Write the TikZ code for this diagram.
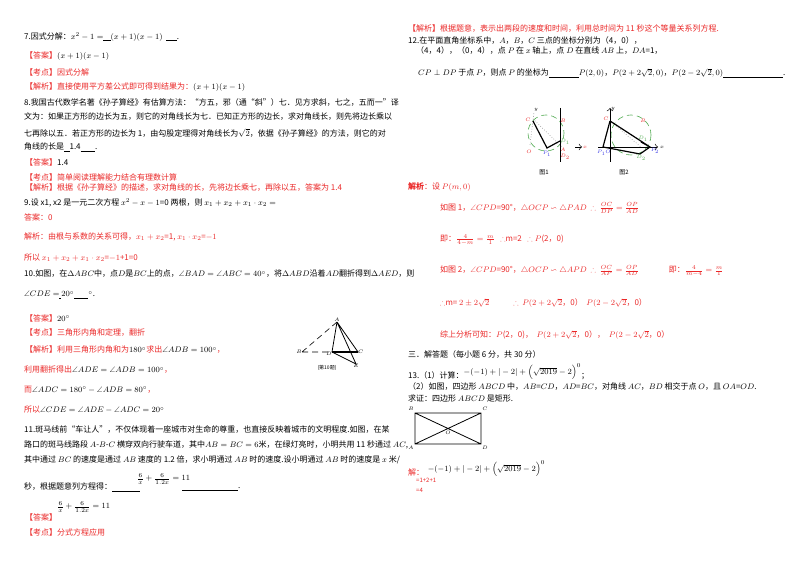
\documentclass[tikz,border=0pt]{standalone}
\usepackage{fontspec}
\usepackage{amsmath,amssymb}
\setmainfont{Noto Sans CJK SC}
\definecolor{rd}{RGB}{235,40,40}
\definecolor{gr}{RGB}{80,170,80}
\definecolor{bl}{RGB}{60,60,230}
\tikzset{txt/.style={anchor=west,inner sep=0pt,scale=0.5,font=\fontsize{8pt}{9pt}\selectfont},
 rt/.style={txt,text=rd}, lab/.style={inner sep=0pt,scale=0.5,font=\fontsize{5pt}{5.5pt}\selectfont}}
\newcommand\TT[4]{\node[txt] (#1) at (#2,#3) {#4};}
\newcommand\TR[4]{\node[rt] (#1) at (#2,#3) {#4};}
\begin{document}
\begin{tikzpicture}[x=0.5pt,y=-0.5pt]
\useasboundingbox (0,0) rectangle (800,565);
\fill[white] (0,0) rectangle (800,565);
% left column
\TT{a1}{24}{37}{7.因式分解：$x^2-1=$\underline{\ \ \ \ }$(x+1)(x-1)$\ \ \underline{\ \ \ \ \ \ }.}
\TR{a2}{25}{56}{【答案】\textcolor{black}{$(x+1)(x-1)$}}
\TR{a3}{25}{72}{【考点】因式分解}
\TR{a4}{25}{87}{【解析】直接使用平方差公式即可得到结果为：\textcolor{black}{$(x+1)(x-1)$}}
\TT{a5}{24}{103}{8.我国古代数学名著《孙子算经》有估算方法：“方五，邪（通“斜”）七．见方求斜，七之，五而一”译}
\TT{a6}{24}{117}{文为：如果正方形的边长为五，则它的对角线长为七．已知正方形的边长，求对角线长，则先将边长乘以}
\TT{a7}{24}{133}{七再除以五．若正方形的边长为 1，由勾股定理得对角线长为$\sqrt2$，依据《孙子算经》的方法，则它的对}
\TT{a8}{24}{147}{角线的长是\underline{\ \ \ }1.4\underline{\ \ \ \ \ \ \ \ }.}
\TR{a9}{25}{162}{【答案】\textcolor{black}{1.4}}
\TR{a10}{25}{177}{【考点】简单阅读理解能力结合有理数计算}
\TR{a11}{25}{188}{【解析】根据《孙子算经》的描述，求对角线的长，先将边长乘七，再除以五，答案为 1.4}
\TT{a12}{24}{203}{9.设 x1, x2 是一元二次方程 $x^2-x-1$=0 两根，则 $x_1+x_2+x_1\cdot x_2=$}
\TR{a13}{24}{217}{答案：0}
\TR{a14}{24}{237}{解析：由根与系数的关系可得，$x_1+x_2$=1, $x_1\cdot x_2$=$-1$}
\TR{a15}{24}{258}{所以 $x_1+x_2+x_1\cdot x_2$=$-1$+1=0}
\TT{a16}{24}{274}{10.如图，在$\Delta ABC$中，点$D$是$BC$上的点，$\angle BAD=\angle ABC=40^\circ$，将$\Delta ABD$沿着$AD$翻折得到$\Delta AED$，则}
\TT{a17}{24}{295}{$\angle CDE=$\underline{\ }$20^\circ$\underline{\ \ \ \ \ \ \ \ }$^\circ$.}
\TR{a18}{25}{318}{【答案】\textcolor{black}{$20^\circ$}}
\TR{a19}{25}{333}{【考点】三角形内角和定理，翻折}
\TR{a20}{25}{350}{【解析】利用三角形内角和为\textcolor{black}{$180^\circ$}求出\textcolor{black}{$\angle ADB=100^\circ$}，}
\TR{a21}{24}{370}{利用翻折得出\textcolor{black}{$\angle ADE=\angle ADB=100^\circ$}，}
\TR{a22}{24}{390}{而\textcolor{black}{$\angle ADC=180^\circ-\angle ADB=80^\circ$}，}
\TR{a23}{24}{410}{所以\textcolor{black}{$\angle CDE=\angle ADE-\angle ADC=20^\circ$}}
\TT{a24}{24}{430}{11.斑马线前“车让人”，不仅体现着一座城市对生命的尊重，也直接反映着城市的文明程度.如图，在某}
\TT{a25}{24}{445}{路口的斑马线路段 $A$-$B$-$C$ 横穿双向行驶车道，其中$AB=BC=6$米，在绿灯亮时，小明共用 11 秒通过 $AC$,}
\TT{a26}{24}{460}{其中通过 $BC$ 的速度是通过 $AB$ 速度的 1.2 倍，求小明通过 $AB$ 时的速度.设小明通过 $AB$ 时的速度是 $x$ 米/}
\TT{a27}{24}{487}{秒，根据题意列方程得：\underline{\hspace{28pt}}}
\node[txt] (a28) at (137,479) {$\frac{6}{x}+\frac{6}{1.2x}=11$};
\node[txt] (a29) at (182,489) {\underline{\hspace{56pt}}.};
\TR{a30}{25}{517}{【答案】}
\node[txt] (a31) at (57,507) {$\frac{6}{x}+\frac{6}{1.2x}=11$};
\TR{a32}{25}{532}{【考点】分式方程应用}
% triangle figure
\coordinate (A) at (337,322); \coordinate (B) at (302,352); \coordinate (D) at (332,352);
\coordinate (C) at (358,352); \coordinate (E) at (356,364);
\draw[densely dashed,line width=0.3pt] (B)--(A) (B)--(D);
\draw[line width=0.4pt] (A)--(D)--(C)--(A)--(E)--(D);
\draw[line width=0.8pt] (D)--(C);
\node[lab,above] (lA) at (A) {$A$}; \node[lab,left] (lB) at (B) {$B$};
\node[lab,below left] (lD) at (D) {$D$}; \node[lab,right] (lC) at (C) {$C$};
\node[lab,below] (lE) at (E) {$E$}; \node[lab] (cap) at (327,368) {(第10题)};
% right column
\TR{b1}{408}{29}{【解析】根据题意，表示出两段的速度和时间，利用总时间为 11 秒这个等量关系列方程.}
\TT{b2}{408}{41}{12.在平面直角坐标系中，$A$，$B$，$C$ 三点的坐标分别为（4，0），}
\TT{b3}{416}{51}{（4，4），（0，4），点 $P$ 在 $x$ 轴上，点 $D$ 在直线 $AB$ 上，$DA$=1，}
\TT{b4}{418}{73}{$CP\perp DP$ 于点 $P$，则点 $P$ 的坐标为\underline{\hspace{30pt}}$P(2,0)$，$P(2+2\sqrt2,0)$，$P(2-2\sqrt2,0)$\underline{\hspace{60pt}}.}
% fig 1
\draw[gr,densely dashed,line width=0.3pt] (546,133) circle (18);
\draw[line width=0.3pt] (560,108)--(560,162);
\draw[gray,densely dotted,line width=0.3pt] (533,119)--(562,147) (530,145)--(534,112);
\draw[->,densely dashed,line width=0.3pt] (575,147)--(582,147);
\draw[line width=0.6pt] (533,121)--(547,148)--(560,141);
\node[lab,text=rd] (f1C) at (528,120) {$C$}; \node[lab,text=rd] (f1B) at (563,121) {$B$};
\node[lab,text=gr] (f1D1) at (565,142) {$D_1$}; \node[lab,text=bl] (f1P) at (547,154) {$P_1$};
\node[lab,text=rd] (f1A) at (563,150) {$A$}; \node[lab,text=rd] (f1D2) at (565,157) {$D_2$};
\node[lab,text=rd] (f1O) at (529,152) {$O$}; \node[lab,text=rd] (f1x) at (585,147) {$x$};
\node[lab] (f1y) at (536,110) {$y$};
\node[lab,font=\fontsize{6pt}{6.5pt}\selectfont] (g1) at (544,172) {图1};
% fig 2
\draw[gr,densely dashed,line width=0.3pt] (631,135) circle (20);
\draw[->,line width=0.3pt] (610,162)--(610,108);
\draw[->,line width=0.3pt] (598,147)--(658,147);
\draw[gray,densely dotted,line width=0.3pt] (610,121)--(641,147);
\draw[line width=0.6pt] (610,121)--(650,147)--(640,154)--(603,147)--(610,121) (641,142)--(650,147);
\node[lab,text=rd] (f2C) at (606,119) {$C$}; \node[lab,text=rd] (f2B) at (643,121) {$B$};
\node[lab,text=gr] (f2D1) at (643,139) {$D_1$}; \node[lab,text=bl] (f2P2) at (655,151) {$P_2$};
\node[lab,text=gr] (f2D2) at (641,158) {$D_2$}; \node[lab,text=bl] (f2P1) at (604,153) {$P_1O$};
\node[lab] (f2x) at (662,147) {$x$}; \node[lab] (f2y) at (613,109) {$y$};
\node[lab,font=\fontsize{6pt}{6.5pt}\selectfont] (g2) at (624,172) {图2};
\TR{b5}{408}{187}{\textbf{解析}：设 $P(m,0)$}
\TR{b6}{440}{208}{如图 1，$\angle CPD$=90°，$\triangle OCP\backsim\triangle PAD$\ \ $\therefore$\ \ $\frac{OC}{DP}=\frac{OP}{AD}$}
\TR{b7}{440}{240}{即：$\frac{4}{4-m}=\frac{m}{1}$\ \ \ $\therefore$m=2\ \ \ $\therefore P$(2，0)}
\TR{b8}{440}{271}{如图 2，$\angle CPD$=90°，$\triangle OCP\backsim\triangle APD$\ \ $\therefore$\ \ $\frac{OC}{AP}=\frac{OP}{AD}$\hspace{30pt}即：$\frac{4}{m-4}=\frac{m}{1}$}
\TR{b9}{440}{303}{$\therefore$m= $2\pm2\sqrt2$\hspace{24pt}$\therefore$\ \ $P(2+2\sqrt2$，0）\ \ $P(2-2\sqrt2$，0）}
\TR{b10}{440}{335}{综上分析可知：$P$(2，0)，\ \ $P(2+2\sqrt2$，0），\ \ $P(2-2\sqrt2$，0）}
\TT{b11}{408}{355}{三．解答题（每小题 6 分，共 30 分）}
\TT{b12}{408}{372}{13.（1）计算：\raisebox{4pt}{$-(-1)+|-2|+\left(\sqrt{2019}-2\right)^0$}；}
\TT{b13}{408}{387}{（2）如图，四边形 $ABCD$ 中，$AB$=$CD$，$AD$=$BC$，对角线 $AC$，$BD$ 相交于点 $O$，且 $OA$=$OD$.}
\TT{b14}{408}{398}{求证：四边形 $ABCD$ 是矩形.}
\coordinate (R1) at (415,413); \coordinate (R2) at (481,413); \coordinate (R3) at (481,444); \coordinate (R4) at (415,444);
\draw[line width=0.4pt] (R1)--(R2)--(R3)--(R4)--cycle (R1)--(R3) (R2)--(R4);
\node[lab] (rB) at (411,409) {$B$}; \node[lab] (rC) at (485,409) {$C$};
\node[lab] (rA) at (411,448) {$A$}; \node[lab] (rD) at (485,448) {$D$};
\node[lab] (rO) at (448,433) {$O$};
\TR{b15}{408}{469}{解：\ \ \textcolor{black}{\raisebox{4pt}{$-(-1)+|-2|+\left(\sqrt{2019}-2\right)^0$}}}
\node[rt,font=\fontsize{6pt}{6.5pt}\selectfont] (b16) at (416,480) {=1+2+1};
\node[rt,font=\fontsize{6pt}{6.5pt}\selectfont] (b17) at (416,490) {=4};
\end{tikzpicture}
\end{document}
